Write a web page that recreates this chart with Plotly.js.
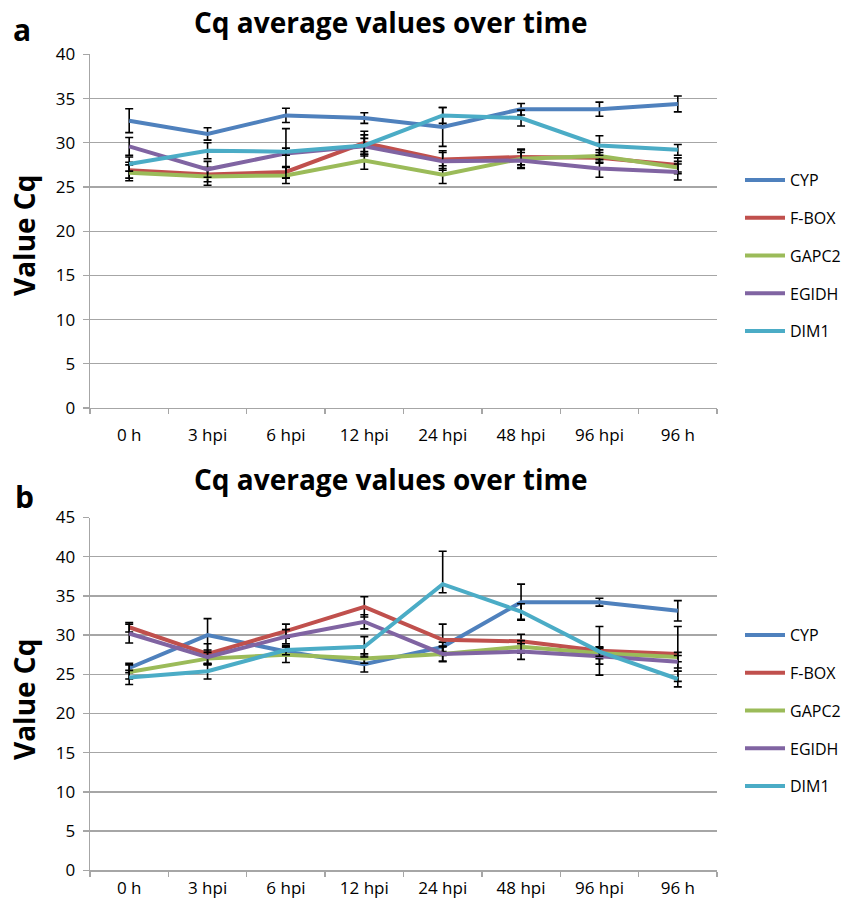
<!DOCTYPE html>
<html>
<head>
<meta charset="utf-8">
<script src="https://cdn.plot.ly/plotly-3.0.1.min.js"></script>
<style>
html,body{margin:0;padding:0;background:#fff;}
#chart{width:859px;height:906px;}
</style>
</head>
<body>
<div id="chart"></div>
<script>
// ---- data ----
const categories = ['0 h', '3 hpi', '6 hpi', '12 hpi', '24 hpi', '48 hpi', '96 hpi', '96 h'];
const seriesNames = ['CYP', 'F-BOX', 'GAPC2', 'EGIDH', 'DIM1'];
const chartTitle = 'Cq average values over time';
const yTitle = 'Value Cq';

// Panel a
const CYP_a = [32.5, 31.0, 33.1, 32.8, 31.8, 33.8, 33.8, 34.4];
const CYP_a_err = [1.35, 0.7, 0.8, 0.6, 2.2, 0.65, 0.8, 0.9];
const FBOX_a = [26.9, 26.4, 26.7, 30.0, 28.1, 28.4, 28.3, 27.5];
const FBOX_a_err = [0.9, 0.8, 0.6, 1.3, 1.0, 0.9, 0.6, 0.8];
const GAPC2_a = [26.6, 26.2, 26.3, 28.0, 26.4, 28.2, 28.5, 27.2];
const GAPC2_a_err = [0.9, 1.0, 0.9, 1.0, 1.0, 1.0, 0.7, 0.7];
const EGIDH_a = [29.6, 27.0, 28.8, 29.6, 27.9, 28.0, 27.1, 26.7];
const EGIDH_a_err = [1.0, 0.9, 2.8, 0.9, 1.0, 0.9, 1.0, 0.9];
const DIM1_a = [27.6, 29.1, 29.0, 29.7, 33.1, 32.8, 29.7, 29.2];
const DIM1_a_err = [0.8, 0.9, 0.4, 1.2, 0.9, 0.9, 1.1, 0.6];

// Panel b
const CYP_b = [25.8, 30.0, 27.9, 26.3, 28.5, 34.2, 34.2, 33.1];
const CYP_b_err = [0.6, 2.1, 0.6, 1.0, 0.6, 2.3, 0.5, 1.3];
const FBOX_b = [31.0, 27.6, 30.5, 33.6, 29.4, 29.2, 28.0, 27.6];
const FBOX_b_err = [0.6, 1.3, 0.9, 1.3, 2.0, 0.9, 3.1, 3.5];
const GAPC2_b = [25.3, 27.0, 27.5, 27.0, 27.6, 28.5, 27.7, 27.2];
const GAPC2_b_err = [0.9, 0.8, 1.0, 0.6, 0.9, 0.8, 0.7, 0.6];
const EGIDH_b = [30.2, 27.2, 29.8, 31.7, 27.6, 27.9, 27.3, 26.6];
const EGIDH_b_err = [1.2, 0.9, 0.9, 0.9, 1.0, 1.0, 1.0, 0.8];
const DIM1_b = [24.6, 25.4, 28.1, 28.5, 36.5, 33.0, 27.9, 24.4];
const DIM1_b_err = [0.9, 1.0, 0.6, 1.3, 4.2, 1.0, 0.6, 1.0];
const DIM1_b_errMinus = [0.9, 1.0, 0.6, 1.3, 1.1, 1.0, 0.6, 1.0];

const colors = ['#4F81BD', '#C0504D', '#9BBB59', '#8064A2', '#4BACC6'];

const panelA = [[CYP_a, CYP_a_err], [FBOX_a, FBOX_a_err], [GAPC2_a, GAPC2_a_err], [EGIDH_a, EGIDH_a_err], [DIM1_a, DIM1_a_err]];
const panelB = [[CYP_b, CYP_b_err], [FBOX_b, FBOX_b_err], [GAPC2_b, GAPC2_b_err], [EGIDH_b, EGIDH_b_err], [DIM1_b, DIM1_b_err, DIM1_b_errMinus]];

const FONT = 'Open Sans, Liberation Sans, sans-serif';
const GRID = '#A6A6A6';

const traces = [];
function addPanel(panel, xa, ya, legendId, tag) {
  panel.forEach((s, i) => {
    const err = {type: 'data', array: s[1], visible: true, color: '#000', thickness: 1.6, width: 4};
    if (s[2]) { err.symmetric = false; err.arrayminus = s[2]; }
    traces.push({
      type: 'scatter', mode: 'lines',
      x: categories, y: s[0],
      name: seriesNames[i],
      xaxis: xa, yaxis: ya,
      legend: legendId,
      legendgroup: tag + i,
      line: {color: colors[i], width: 4},
      error_y: err
    });
  });
}
addPanel(panelA, 'x', 'y', 'legend', 'a');
addPanel(panelB, 'x2', 'y2', 'legend2', 'b');

function xax(anchor, standoff) {
  return {
    type: 'category', range: [-0.5, 7.5], domain: [90/859, 717/859], anchor: anchor,
    showline: true, linecolor: GRID, linewidth: 1.3,
    ticks: 'outside', tickson: 'boundaries', ticklen: 5, tickcolor: GRID, tickwidth: 1.3,
    showgrid: false, zeroline: false, ticklabelstandoff: standoff,
    tickfont: {family: FONT, size: 17, color: '#000'}
  };
}
function yax(anchor, max, dom) {
  return {
    range: [0, max], dtick: 5, domain: dom, anchor: anchor,
    showgrid: true, gridcolor: GRID, gridwidth: 1.3,
    showline: true, linecolor: GRID, linewidth: 1.3,
    ticks: 'outside', ticklen: 6, tickcolor: GRID, tickwidth: 1.3,
    zeroline: false, ticklabelstandoff: 4,
    tickfont: {family: FONT, size: 17, color: '#000'}
  };
}

function legendCfg(yTop) {
  return {
    x: 740/859, xanchor: 'left', y: yTop, yanchor: 'top',
    font: {family: FONT, size: 16, color: '#000'},
    tracegroupgap: 14, bgcolor: 'rgba(0,0,0,0)', itemwidth: 40
  };
}

const titleFont = {family: FONT, size: 28, color: '#000', weight: 'bold'};
const letterFont = {family: FONT, size: 30, color: '#000', weight: 'bold'};
const ytFont = {family: FONT, size: 28, color: '#000', weight: 'bold'};

const layout = {
  width: 859, height: 906,
  margin: {l: 0, r: 0, t: 0, b: 0},
  paper_bgcolor: '#fff', plot_bgcolor: '#fff',
  showlegend: true,
  xaxis: xax('y', 11),
  yaxis: yax('x', 40, [1 - 408/906, 1 - 54.4/906]),
  xaxis2: xax('y2', 2),
  yaxis2: yax('x2', 45, [1 - 870.3/906, 1 - 517.5/906]),
  legend: legendCfg(1 - 163/906),
  legend2: legendCfg(1 - 618/906),
  annotations: [
    {text: chartTitle, xref: 'paper', yref: 'paper', x: 391/859, y: 1 - 22/906, xanchor: 'center', yanchor: 'middle', showarrow: false, font: titleFont},
    {text: chartTitle, xref: 'paper', yref: 'paper', x: 391/859, y: 1 - 479/906, xanchor: 'center', yanchor: 'middle', showarrow: false, font: titleFont},
    {text: 'a', xref: 'paper', yref: 'paper', x: 22/859, y: 1 - 30/906, xanchor: 'center', yanchor: 'middle', showarrow: false, font: letterFont},
    {text: 'b', xref: 'paper', yref: 'paper', x: 24/859, y: 1 - 496/906, xanchor: 'center', yanchor: 'middle', showarrow: false, font: letterFont},
    {text: yTitle, xref: 'paper', yref: 'paper', x: 24/859, y: 1 - 236/906, xanchor: 'center', yanchor: 'middle', textangle: -90, showarrow: false, font: ytFont},
    {text: yTitle, xref: 'paper', yref: 'paper', x: 24/859, y: 1 - 700/906, xanchor: 'center', yanchor: 'middle', textangle: -90, showarrow: false, font: ytFont}
  ]
};

Plotly.newPlot('chart', traces, layout, {displayModeBar: false, staticPlot: true});
</script>
</body>
</html>
